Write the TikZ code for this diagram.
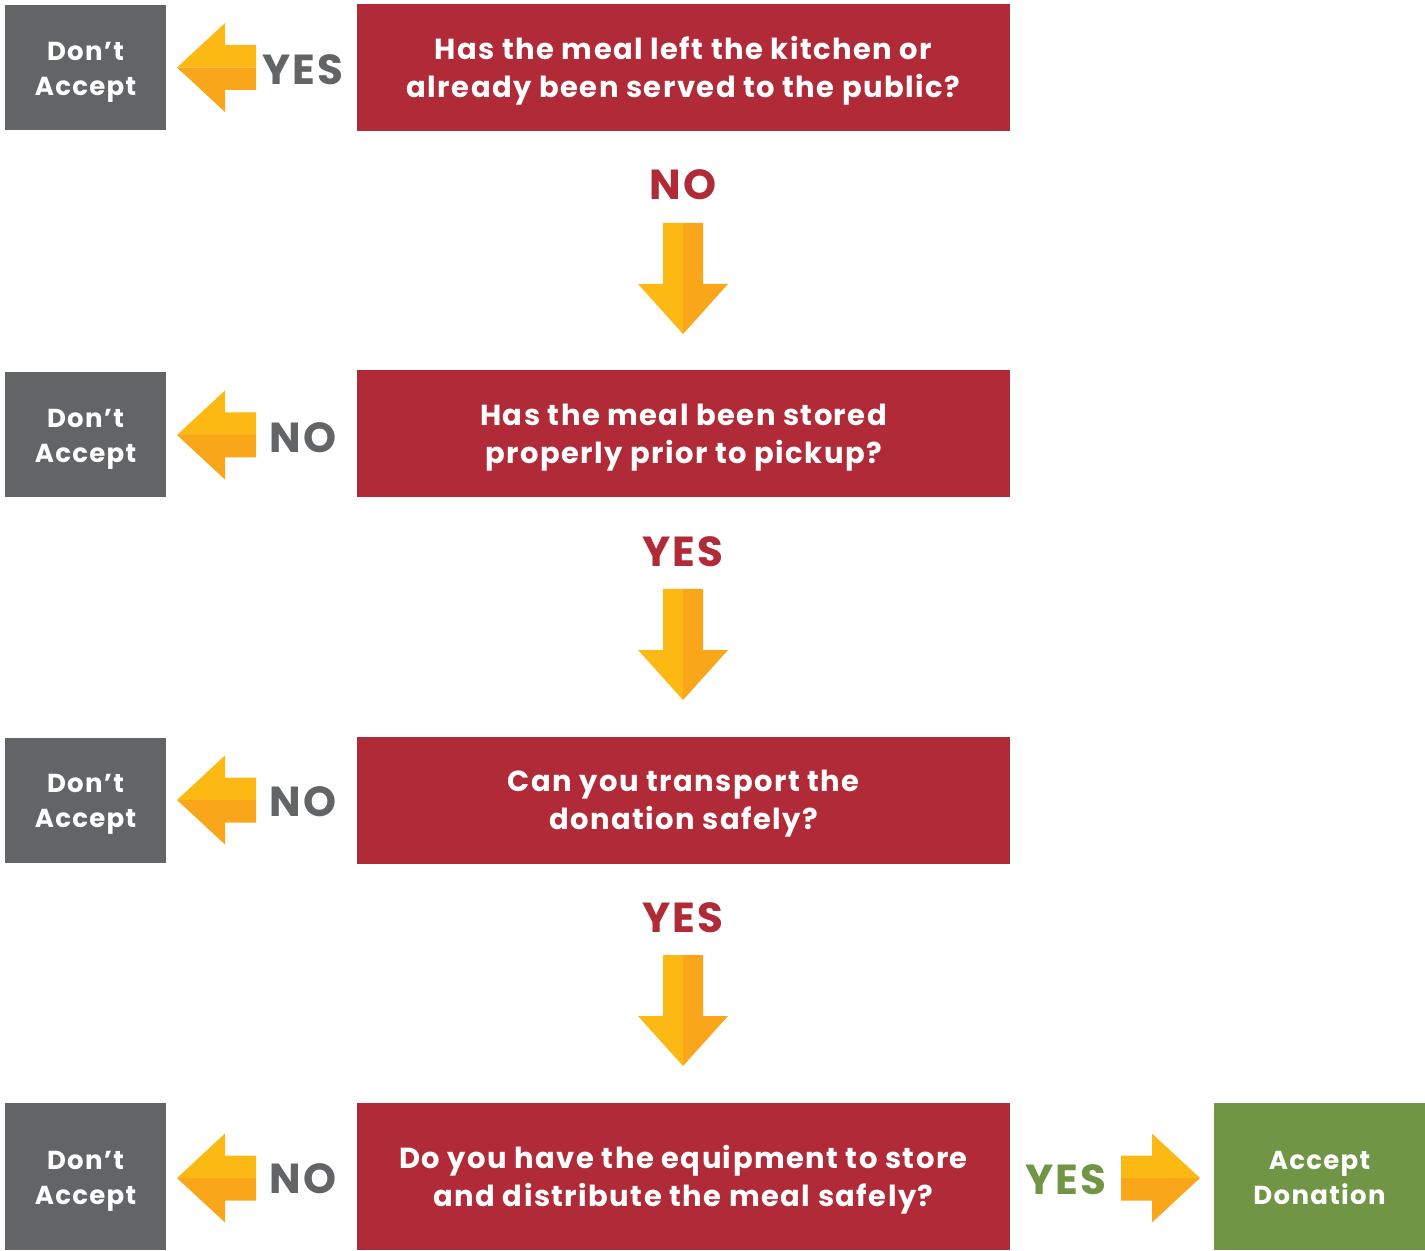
\documentclass[tikz,border=0pt]{standalone}
\usepackage{fontspec}
\setmainfont{Poppins}[LetterSpace=5]
\definecolor{cqred}{RGB}{177,42,55}
\definecolor{cqgrey}{RGB}{99,100,102}
\definecolor{cqgreen}{RGB}{112,150,69}
\definecolor{cylight}{RGB}{253,185,19}
\definecolor{cydark}{RGB}{249,166,27}

\newcommand{\twolines}[2]{\raisebox{-1.6pt}[\height][\depth]{\begin{tabular}{@{}c@{}}#1\\#2\end{tabular}}}

\tikzset{
  question/.style={fill=cqred,text=white,font=\bfseries\fontsize{14.5}{19}\selectfont,
    align=center,minimum width=326.5pt,minimum height=63.5pt,inner sep=0pt},
  reject/.style={fill=cqgrey,text=white,font=\bfseries\fontsize{13}{17.5}\selectfont,
    align=center,minimum width=80.5pt,minimum height=62.5pt,inner sep=0pt},
  accept/.style={fill=cqgreen,text=white,font=\bfseries\fontsize{13}{17.5}\selectfont,
    align=center,minimum width=105.5pt,minimum height=73.5pt,inner sep=0pt},
  answer/.style={font=\bfseries\fontsize{21}{21}\selectfont,inner sep=0pt},
  pics/sidearrow/.style={code={
    \path[fill=cylight] (0,0) -- (48,-44.5) -- (48,-22.5) -- (79,-22.5) -- (79,0) -- cycle;
    \path[fill=cydark] (0,0) -- (48,44.5) -- (48,22.5) -- (79,22.5) -- (79,0) -- cycle;
  }},
  pics/downarrow/.style={code={
    \path[fill=cylight] (0,0) -- (-45,-50) -- (-20,-50) -- (-20,-111) -- (0,-111) -- cycle;
    \path[fill=cydark] (0,0) -- (45,-50) -- (20,-50) -- (20,-111) -- (0,-111) -- cycle;
  }}
}

\begin{document}
\begin{tikzpicture}[x=0.5pt,y=-0.5pt]
\useasboundingbox (0,0) rectangle (1425,1251);

% questions
\node[question] (q1) at (683.5,67.5) {\twolines{Has the meal left the kitchen or}{already been served to the public?}};
\node[question] (q2) at (683.5,434) {\twolines{Has the meal been stored}{properly prior to pickup?}};
\node[question] (q3) at (683.5,800) {\twolines{Can you transport the}{donation safely?}};
\node[question,minimum height=73.5pt] (q4) at (683.5,1176.5) {\twolines{Do you have the equipment to store}{and distribute the meal safely?}};

% outcomes
\node[reject] (r1) at (85.5,67.5) {\twolines{Don’t}{Accept}};
\node[reject] (r2) at (85.5,435) {\twolines{Don’t}{Accept}};
\node[reject] (r3) at (85.5,800) {\twolines{Don’t}{Accept}};
\node[reject,minimum height=73.5pt] (r4) at (85.5,1176.5) {\twolines{Don’t}{Accept}};
\node[accept] (ok) at (1319.5,1176.5) {\twolines{Accept}{Donation}};

% answers
\node[answer,text=cqgrey] (a1) at (303,70) {YES};
\node[answer,text=cqred] (a2) at (683,185) {NO};
\node[answer,text=cqgrey] (a3) at (303,438) {NO};
\node[answer,text=cqred] (a4) at (683,552) {YES};
\node[answer,text=cqgrey] (a5) at (303,802) {NO};
\node[answer,text=cqred] (a6) at (683,918) {YES};
\node[answer,text=cqgrey] (a7) at (303,1179) {NO};
\node[answer,text=cqgreen] (a8) at (1066,1180) {YES};

% arrows
\pic at (177,67.5) {sidearrow};
\pic at (177,435) {sidearrow};
\pic at (177,800) {sidearrow};
\pic at (177,1178) {sidearrow};
\pic[xscale=-1] at (1200,1178) {sidearrow};
\pic at (683,334) {downarrow};
\pic at (683,700) {downarrow};
\pic at (683,1066) {downarrow};
\end{tikzpicture}
\end{document}
